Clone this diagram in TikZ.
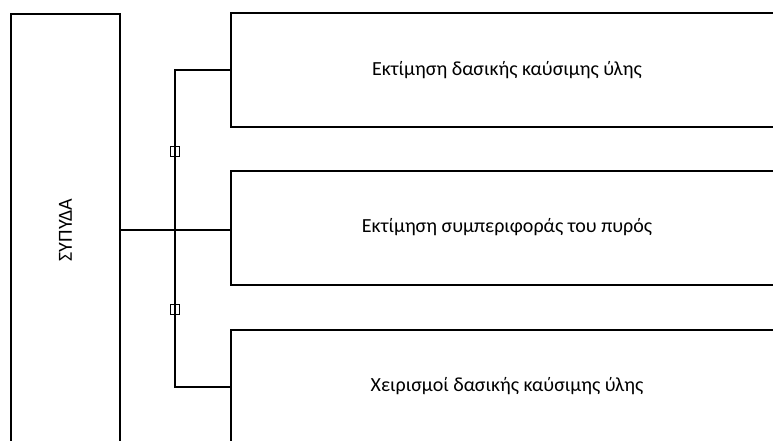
\documentclass[tikz,border=0pt]{standalone}
\usepackage{fontspec}
\setmainfont{Carlito}
\usetikzlibrary{positioning,calc}

\begin{document}
\begin{tikzpicture}[
    x=1pt, y=-1pt,
    font=\fontsize{20}{24}\selectfont,
    frame/.style={draw, line width=2pt, inner sep=0},
    taskbox/.style={frame, minimum width=552pt, minimum height=114pt},
    rootbox/.style={frame, rotate=90, minimum width=432pt, minimum height=109pt},
    link/.style={draw, line width=2pt},
    thinlink/.style={draw, line width=1.2pt},
    pinbox/.style={draw, line width=0.9pt, inner sep=0, minimum width=9pt, minimum height=10pt}]
\useasboundingbox (0,0) rectangle (773,441);

\node[rootbox] (sypyda) at (65.5,230) {ΣΥΠΥΔΑ};
\node[taskbox] (fuel) at (507,70.5) {Εκτίμηση δασικής καύσιμης ύλης};
\node[taskbox] (behaviour) at (507,227.5) {Εκτίμηση συμπεριφοράς του πυρός};
\node[taskbox] (handling) at (507,386.5) {Χειρισμοί δασικής καύσιμης ύλης};
\coordinate (split) at (175,230);

\path[link] (sypyda.south |- split) -- (split);
\path[link] (fuel.west) -| (split) |- (handling.west);
\path[thinlink] (split) -- (split -| behaviour.west);

\node[pinbox] (gapA) at (175,151) {};
\node[pinbox] (gapB) at (175,309) {};

\end{tikzpicture}
\end{document}
